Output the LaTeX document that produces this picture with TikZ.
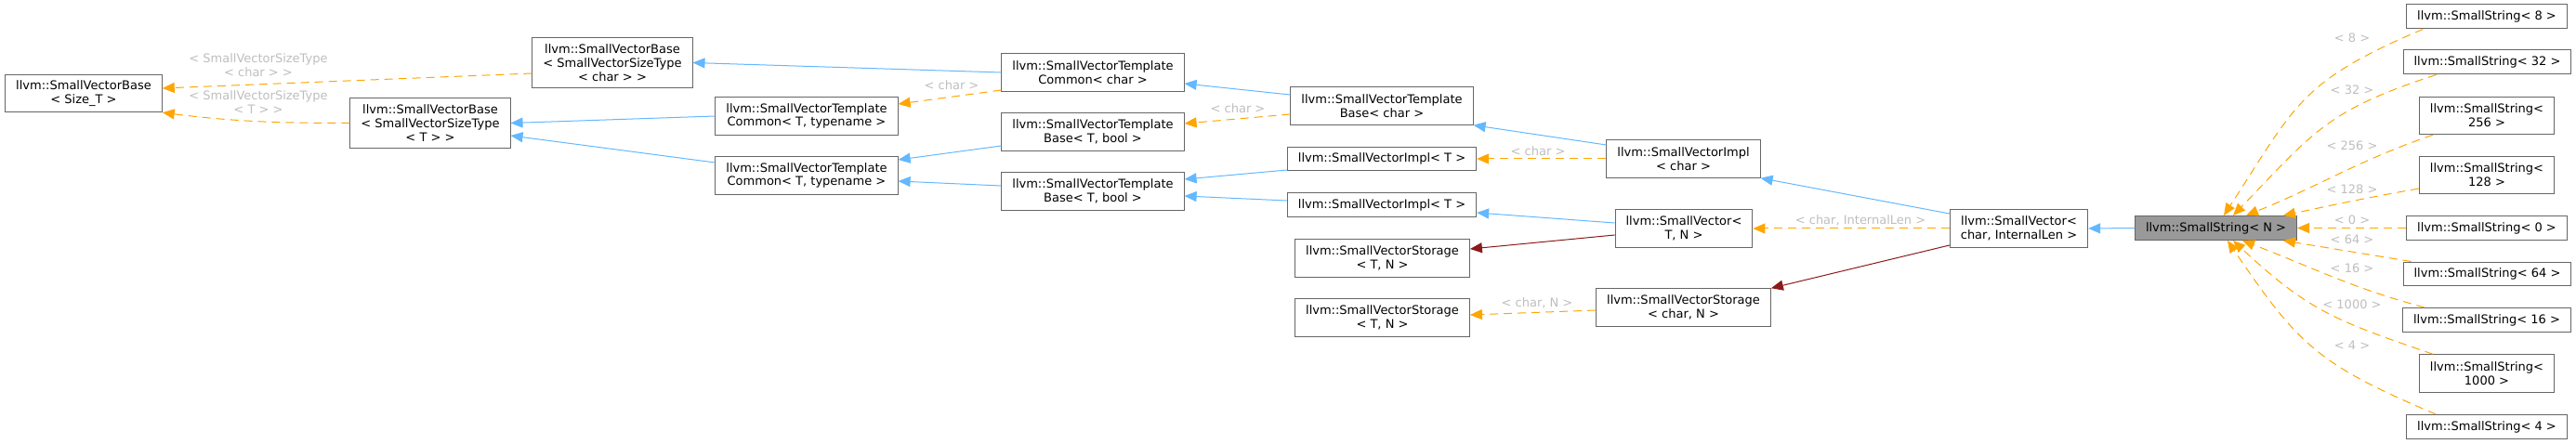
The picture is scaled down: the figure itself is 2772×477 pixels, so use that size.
\documentclass[tikz,border=0pt]{standalone}
\usepackage{fontspec}
\setmainfont{DejaVu Sans}
\usetikzlibrary{
    arrows.meta,
    positioning
}
\definecolor{edgeblue}{RGB}{99,184,255}
\definecolor{edgeorange}{RGB}{255,165,0}
\definecolor{edgered}{RGB}{139,26,26}
\definecolor{lblgray}{RGB}{190,190,190}
\definecolor{boxgray}{RGB}{102,102,102}
\definecolor{curfill}{RGB}{153,153,153}
\tikzset{
  cls/.style   = {draw=boxgray, line width=0.02cm, fill=white, align=center,
                  inner xsep=0.23cm, inner ysep=0.05cm, minimum height=0.52cm,
                  font=\fontsize{7.4pt}{8.37pt}\selectfont},
  hii/.style   = {minimum height=0.81cm},
  hiii/.style  = {minimum height=1.1cm},
  cur/.style   = {cls, fill=curfill},
  lbl/.style   = {align=center, text=lblgray, inner sep=0pt,
                  font=\fontsize{7.4pt}{8.37pt}\selectfont}
}

\begin{document}
\begin{tikzpicture}[
  x=0.02cm, y=0.02cm,
  inh/.style={-{Triangle[length=0.26cm, width=0.22cm]}, draw=edgeblue,
    line width=0.02cm},
  tpl/.style={inh, draw=edgeorange, dash pattern=on 0.18cm off 0.12cm},
  usg/.style={inh, draw=edgered}
]
\useasboundingbox (0,0) rectangle (2772,477);

%% Base classes (left)
\node[cls, hii]  (svbSize)  at (90, 376.5)  {llvm::SmallVectorBase\\< Size\_T >};
\node[cls, hiii] (svbChar)  at (659, 409.5) {llvm::SmallVectorBase\\< SmallVectorSizeType\\< char > >};
\node[cls, hiii] (svbT)     at (463, 344.5) {llvm::SmallVectorBase\\< SmallVectorSizeType\\< T > >};

%% Template common / base
\node[cls, hii] (svtcT)    at (868, 352)   {llvm::SmallVectorTemplate\\Common< T, typename >};
\node[cls, hii] (svtcTb)   at (868, 288)   {llvm::SmallVectorTemplate\\Common< T, typename >};
\node[cls, hii] (svtcChar) at (1176, 399)  {llvm::SmallVectorTemplate\\Common< char >};
\node[cls, hii] (svtbT)    at (1176, 335)  {llvm::SmallVectorTemplate\\Base< T, bool >};
\node[cls, hii] (svtbTb)   at (1176, 271)  {llvm::SmallVectorTemplate\\Base< T, bool >};
\node[cls, hii] (svtbChar) at (1487, 363)  {llvm::SmallVectorTemplate\\Base< char >};

%% Impl / storage
\node[cls]      (sviT)     at (1487, 306)   {llvm::SmallVectorImpl< T >};
\node[cls]      (sviTb)    at (1487, 256.5) {llvm::SmallVectorImpl< T >};
\node[cls, hii] (svsT)     at (1487.5, 199) {llvm::SmallVectorStorage\\< T, N >};
\node[cls, hii] (svsTb)    at (1487.5, 135) {llvm::SmallVectorStorage\\< T, N >};
\node[cls, hii] (sviChar)  at (1811.5, 306) {llvm::SmallVectorImpl\\< char >};
\node[cls, hii] (svTN)     at (1812, 231)   {llvm::SmallVector<\\T, N >};
\node[cls, hii] (svsCharN) at (1811.5, 146) {llvm::SmallVectorStorage\\< char, N >};
\node[cls, hii] (svCharLen) at (2172.5, 231) {llvm::SmallVector<\\char, InternalLen >};

%% The class itself and its instances
\node[cur]      (ssN)    at (2384.5, 231.5) {llvm::SmallString< N >};
\node[cls]      (ss8)    at (2676, 459)     {llvm::SmallString< 8 >};
\node[cls]      (ss32)   at (2676.5, 410)   {llvm::SmallString< 32 >};
\node[cls, hii] (ss256)  at (2676, 352.5)   {llvm::SmallString<\\256 >};
\node[cls, hii] (ss128)  at (2676, 288.5)   {llvm::SmallString<\\128 >};
\node[cls]      (ss0)    at (2676, 231.5)   {llvm::SmallString< 0 >};
\node[cls]      (ss64)   at (2676.5, 182)   {llvm::SmallString< 64 >};
\node[cls]      (ss16)   at (2676, 132.5)   {llvm::SmallString< 16 >};
\node[cls, hii] (ss1000) at (2676, 75)      {llvm::SmallString<\\1000 >};
\node[cls]      (ss4)    at (2676, 17.5)    {llvm::SmallString< 4 >};

%% Edge labels
\node[lbl] (lSizeChar) at (278, 407)  {< SmallVectorSizeType\\< char > >};
\node[lbl] (lSizeT)    at (278, 367)  {< SmallVectorSizeType\\< T > >};
\node[lbl] (lChar1)    at (1024, 385) {< char >};
\node[lbl] (lChar2)    at (1332, 360) {< char >};
\node[lbl] (lChar3)    at (1655, 314) {< char >};
\node[lbl] (lCharN)    at (1654, 151) {< char, N >};
\node[lbl] (lCharLen)  at (2002, 240) {< char, InternalLen >};
\node[lbl] (l8)    at (2531, 436) {< 8 >};
\node[lbl] (l32)   at (2531, 380) {< 32 >};
\node[lbl] (l256)  at (2531, 320) {< 256 >};
\node[lbl] (l128)  at (2531, 273) {< 128 >};
\node[lbl] (l0)    at (2531, 240) {< 0 >};
\node[lbl] (l64)   at (2531, 219) {< 64 >};
\node[lbl] (l16)   at (2531, 188) {< 16 >};
\node[lbl] (l1000) at (2531, 149) {< 1000 >};
\node[lbl] (l4)    at (2531, 105) {< 4 >};

%% Left part
\draw[tpl] ([yshift=-0.23cm]svbChar.west) -- ([yshift=0.11cm]svbSize.east);
\draw[tpl] (svbT.west) to[out=180, in=-7] (svbSize.south east);
\draw[inh] (svtcT.west) -- (svbT.east);
\draw[inh] ([yshift=0.28cm]svtcTb.west) -- ([yshift=-0.27cm]svbT.east);
\draw[inh] (svtcChar.west) -- (svbChar.east);
\draw[tpl] ([yshift=-0.38cm]svtcChar.west) -- ([yshift=0.26cm]svtcT.east);
\draw[inh] ([yshift=-0.3cm]svtbT.west) -- ([yshift=0.34cm]svtcTb.east);
\draw[inh] ([yshift=0.12cm]svtbTb.west) -- ([yshift=-0.12cm]svtcTb.east);

%% Middle part
\draw[inh] ([yshift=0.24cm]svtbChar.west) -- ([yshift=-0.24cm]svtcChar.east);
\draw[tpl] ([yshift=-0.18cm]svtbChar.west) -- ([yshift=0.18cm]svtbT.east);
\draw[inh] ([yshift=-0.24cm]sviT.west) -- ([yshift=0.26cm]svtbTb.east);
\draw[inh] ([yshift=0.09cm]sviTb.west) -- ([yshift=-0.1cm]svtbTb.east);
\draw[inh] ([yshift=0.3cm]sviChar.west) -- (svtbChar.south east);
\draw[tpl] (sviChar.west) -- (sviT.east);
\draw[inh] ([yshift=0.12cm]svTN.west) -- ([yshift=-0.17cm]sviTb.east);
\draw[usg] ([yshift=-0.14cm]svTN.west) -- ([yshift=0.2cm]svsT.east);
\draw[tpl] ([yshift=-0.06cm]svsCharN.west) -- ([yshift=0.06cm]svsTb.east);
\draw[inh] ([yshift=0.32cm]svCharLen.west) -- (sviChar.south east);
\draw[tpl] (svCharLen.west) -- (svTN.east);
\draw[usg] ([yshift=-0.36cm]svCharLen.west) -- (svsCharN.north east);
\draw[inh] (ssN.west) -- (svCharLen.east);

%% Instances of SmallString
\draw[tpl] ([xshift=0.36cm]ss8.south west)
  to[out=203, in=57, looseness=1.25] ([xshift=0.17cm]ssN.north);
\draw[tpl] ([xshift=0.72cm]ss32.south west)
  to[out=198, in=46, looseness=1.2] ([xshift=0.37cm]ssN.north);
\draw[tpl] ([xshift=0.3cm]ss256.south west)
  to[out=199, in=22] ([xshift=0.65cm]ssN.north);
\draw[tpl] ([yshift=-0.29cm]ss128.west)
  to[out=190, in=12] ([xshift=1.45cm]ssN.north);
\draw[tpl] (ss0.west) -- (ssN.east);
\draw[tpl] ([xshift=0.18cm]ss64.north west) -- ([xshift=1.45cm]ssN.south);
\draw[tpl] ([xshift=0.48cm]ss16.north west)
  to[out=165, in=-21] ([xshift=0.57cm]ssN.south);
\draw[tpl] ([xshift=0.3cm]ss1000.north west)
  to[out=161, in=-43, looseness=1.15] ([xshift=0.37cm]ssN.south);
\draw[tpl] ([xshift=0.64cm]ss4.north west)
  to[out=157, in=-56, looseness=1.2] ([xshift=0.25cm]ssN.south);

\end{tikzpicture}
\end{document}
